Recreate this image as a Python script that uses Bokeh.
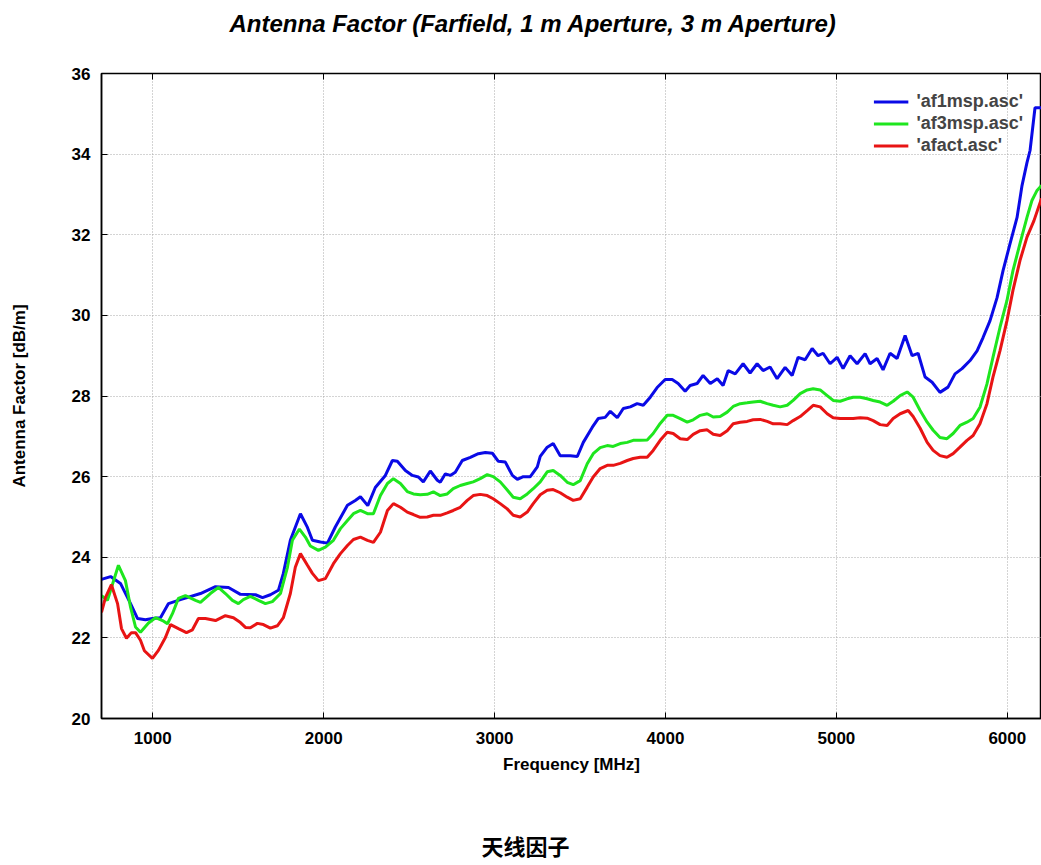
from bokeh.plotting import figure
from bokeh.models import Range1d, LinearAxis, FixedTicker, Legend, LegendItem, Title, ColumnDataSource
from bokeh.embed import file_html
from bokeh.resources import INLINE

# ---------------- data ----------------
af1_freq = [700, 753, 811, 870, 911, 957, 998, 1045, 1092, 1162, 1279, 1367, 1443, 1513, 1601, 1642,
            1688, 1735, 1764, 1805, 1864, 1905, 1934, 1981, 2022, 2068, 2139, 2185, 2215, 2258, 2302,
            2361, 2402, 2431, 2478, 2519, 2554, 2583, 2624, 2665, 2682, 2712, 2741, 2770, 2811, 2858,
            2905, 2946, 2987, 3022, 3063, 3104, 3133, 3168, 3209, 3250, 3267, 3308, 3343, 3384, 3443,
            3484, 3519, 3571, 3606, 3647, 3677, 3718, 3753, 3794, 3834, 3870, 3911, 3951, 3998, 4039,
            4074, 4115, 4144, 4185, 4220, 4262, 4303, 4337, 4367, 4408, 4454, 4495, 4536, 4571, 4612,
            4653, 4700, 4741, 4776, 4817, 4858, 4893, 4922, 4963, 5004, 5039, 5080, 5121, 5168, 5197,
            5238, 5273, 5314, 5355, 5402, 5443, 5478, 5519, 5560, 5606, 5653, 5694, 5735, 5782, 5823,
            5858, 5899, 5940, 5975, 6016, 6057, 6086, 6115, 6133, 6162, 6200]
af1_vals = [23.45, 23.52, 23.35, 22.85, 22.48, 22.45, 22.48, 22.5, 22.85, 22.95, 23.1, 23.27, 23.25,
            23.08, 23.07, 23.0, 23.07, 23.18, 23.6, 24.42, 25.08, 24.74, 24.42, 24.38, 24.35, 24.75,
            25.29, 25.41, 25.5, 25.28, 25.73, 26.03, 26.4, 26.38, 26.15, 26.03, 25.99, 25.87, 26.14,
            25.91, 25.86, 26.07, 26.03, 26.11, 26.4, 26.48, 26.57, 26.6, 26.58, 26.38, 26.36, 26.03,
            25.93, 26.0, 26.0, 26.24, 26.5, 26.73, 26.82, 26.52, 26.52, 26.5, 26.85, 27.22, 27.44,
            27.47, 27.62, 27.46, 27.69, 27.73, 27.81, 27.77, 27.97, 28.21, 28.41, 28.41, 28.31, 28.12,
            28.26, 28.31, 28.51, 28.31, 28.43, 28.26, 28.63, 28.55, 28.8, 28.57, 28.8, 28.63, 28.72,
            28.43, 28.71, 28.51, 28.96, 28.9, 29.18, 29.0, 29.06, 28.8, 28.96, 28.68, 29.0, 28.8,
            29.05, 28.8, 28.93, 28.65, 29.06, 28.93, 29.5, 29.0, 29.06, 28.47, 28.34, 28.09, 28.22,
            28.55, 28.68, 28.88, 29.12, 29.45, 29.87, 30.44, 31.11, 31.78, 32.43, 33.22, 33.79, 34.09,
            35.15, 35.15]

af3_freq = [700, 735, 799, 840, 870, 899, 928, 975, 1016, 1057, 1086, 1115, 1150, 1191, 1250, 1279,
            1337, 1384, 1425, 1466, 1501, 1530, 1571, 1618, 1659, 1700, 1747, 1788, 1817, 1858, 1893,
            1922, 1969, 2010, 2057, 2098, 2139, 2174, 2215, 2256, 2291, 2332, 2373, 2408, 2449, 2489,
            2525, 2565, 2606, 2642, 2682, 2723, 2758, 2799, 2840, 2875, 2916, 2957, 2992, 3033, 3074,
            3109, 3150, 3191, 3226, 3267, 3308, 3343, 3384, 3425, 3460, 3501, 3542, 3577, 3618, 3659,
            3694, 3735, 3776, 3811, 3852, 3893, 3928, 3969, 4010, 4045, 4086, 4127, 4162, 4203, 4244,
            4279, 4320, 4361, 4396, 4437, 4478, 4513, 4554, 4595, 4630, 4671, 4712, 4747, 4788, 4829,
            4864, 4905, 4946, 4981, 5022, 5063, 5098, 5139, 5180, 5215, 5256, 5297, 5332, 5373, 5414,
            5449, 5490, 5531, 5566, 5606, 5647, 5683, 5723, 5764, 5800, 5840, 5881, 5916, 5957, 5998,
            6033, 6074, 6115, 6144, 6174, 6200]
af3_vals = [23.05, 22.93, 23.8, 23.42, 22.76, 22.27, 22.14, 22.37, 22.5, 22.43, 22.35, 22.6, 22.98,
            23.05, 22.93, 22.88, 23.1, 23.25, 23.1, 22.93, 22.85, 22.95, 23.03, 22.93, 22.85, 22.9,
            23.1, 23.75, 24.42, 24.7, 24.5, 24.28, 24.17, 24.25, 24.42, 24.71, 24.91, 25.08, 25.16,
            25.08, 25.08, 25.53, 25.83, 25.95, 25.83, 25.63, 25.57, 25.55, 25.56, 25.62, 25.53, 25.57,
            25.7, 25.78, 25.83, 25.87, 25.95, 26.05, 26.0, 25.87, 25.67, 25.49, 25.45, 25.57, 25.7,
            25.87, 26.12, 26.15, 26.03, 25.86, 25.8, 25.9, 26.32, 26.57, 26.72, 26.77, 26.75, 26.82,
            26.85, 26.9, 26.9, 26.91, 27.07, 27.32, 27.52, 27.52, 27.44, 27.35, 27.41, 27.52, 27.56,
            27.48, 27.49, 27.6, 27.74, 27.81, 27.83, 27.85, 27.87, 27.81, 27.77, 27.73, 27.77, 27.89,
            28.06, 28.15, 28.18, 28.15, 28.01, 27.89, 27.87, 27.93, 27.97, 27.97, 27.93, 27.89, 27.85,
            27.77, 27.87, 28.01, 28.1, 27.97, 27.64, 27.35, 27.15, 26.97, 26.94, 27.07, 27.27, 27.35,
            27.44, 27.72, 28.3, 28.96, 29.7, 30.37, 31.11, 31.78, 32.43, 32.85, 33.1, 33.22]

afact_freq = [700, 723, 758, 794, 817, 846, 875, 899, 928, 951, 998, 1033, 1074, 1104, 1150, 1197,
              1232, 1267, 1308, 1367, 1425, 1472, 1513, 1542, 1571, 1612, 1647, 1688, 1729, 1764, 1805,
              1834, 1864, 1905, 1934, 1969, 2010, 2057, 2098, 2139, 2174, 2215, 2256, 2291, 2332, 2373,
              2408, 2449, 2489, 2525, 2565, 2606, 2642, 2682, 2723, 2758, 2799, 2840, 2875, 2916, 2957,
              2992, 3033, 3074, 3109, 3150, 3191, 3226, 3267, 3308, 3343, 3384, 3425, 3460, 3501, 3542,
              3577, 3618, 3659, 3694, 3735, 3776, 3811, 3852, 3893, 3928, 3969, 4010, 4045, 4086, 4127,
              4162, 4203, 4244, 4279, 4320, 4361, 4396, 4437, 4478, 4513, 4554, 4595, 4630, 4671, 4712,
              4747, 4788, 4829, 4864, 4905, 4946, 4981, 5022, 5063, 5098, 5139, 5180, 5215, 5256, 5297,
              5332, 5373, 5420, 5449, 5490, 5531, 5566, 5606, 5647, 5683, 5723, 5764, 5800, 5840, 5881,
              5916, 5957, 5998, 6033, 6074, 6115, 6156, 6200]
afact_vals = [22.63, 23.0, 23.32, 22.85, 22.23, 21.99, 22.13, 22.13, 21.94, 21.68, 21.49, 21.69, 22.01,
              22.33, 22.23, 22.13, 22.2, 22.48, 22.48, 22.43, 22.55, 22.5, 22.38, 22.26, 22.25, 22.36,
              22.33, 22.24, 22.3, 22.5, 23.1, 23.75, 24.09, 23.8, 23.6, 23.42, 23.47, 23.84, 24.09,
              24.29, 24.44, 24.5, 24.42, 24.37, 24.62, 25.16, 25.33, 25.24, 25.12, 25.06, 24.99, 25.0,
              25.04, 25.04, 25.1, 25.16, 25.24, 25.41, 25.53, 25.56, 25.53, 25.45, 25.33, 25.2, 25.04,
              25.0, 25.12, 25.33, 25.55, 25.66, 25.68, 25.6, 25.49, 25.41, 25.45, 25.74, 25.99, 26.2,
              26.28, 26.28, 26.33, 26.4, 26.45, 26.48, 26.48, 26.65, 26.9, 27.1, 27.07, 26.94, 26.92,
              27.05, 27.14, 27.16, 27.05, 27.02, 27.14, 27.31, 27.35, 27.37, 27.41, 27.42, 27.37, 27.31,
              27.31, 27.29, 27.39, 27.49, 27.64, 27.77, 27.73, 27.56, 27.46, 27.44, 27.44, 27.44, 27.46,
              27.45, 27.39, 27.29, 27.27, 27.44, 27.56, 27.64, 27.49, 27.2, 26.85, 26.65, 26.52, 26.48,
              26.57, 26.73, 26.9, 27.02, 27.31, 27.81, 28.47, 29.12, 29.87, 30.62, 31.36, 31.94, 32.35,
              32.9]

series_names = ["'af1msp.asc'", "'af3msp.asc'", "'afact.asc'"]
series_colors = ["#0a0ae6", "#1ee61e", "#e81414"]
x_ticks = [1000, 2000, 3000, 4000, 5000, 6000]
y_ticks = [20, 22, 24, 26, 28, 30, 32, 34, 36]

title_text = "Antenna Factor (Farfield, 1 m Aperture, 3 m Aperture)"
caption_text = "天线因子"
x_label = "Frequency [MHz]"
y_label = "Antenna Factor [dB/m]"

FONT = "Liberation Sans"

# ---------------- figure ----------------
p = figure(width=1041, height=865,
           x_range=Range1d(700, 6200), y_range=Range1d(20, 36),
           output_backend="svg", toolbar_location=None,
           min_border_left=101, min_border_right=0,
           min_border_top=73, min_border_bottom=147)
p.background_fill_color = "white"
p.border_fill_color = "white"
p.outline_line_color = "black"
p.outline_line_width = 1.5

# title: a trailing empty line lifts it to the top of the page
p.title.text = title_text + "\n"
p.title.text_font = FONT
p.title.text_font_style = "bold italic"
p.title.text_font_size = "24px"
p.title.text_color = "black"
p.title.align = "left"
p.title.offset = 128
p.title.vertical_align = "top"
p.title.standoff = 16

for ax in (p.xaxis[0], p.yaxis[0]):
    ax.major_label_text_font = FONT
    ax.major_label_text_font_style = "bold"
    ax.major_label_text_font_size = "17px"
    ax.major_label_text_color = "black"
    ax.axis_label_text_font = FONT
    ax.axis_label_text_font_style = "bold"
    ax.axis_label_text_font_size = "17px"
    ax.axis_label_text_color = "black"
    ax.major_tick_in = 6
    ax.major_tick_out = 0
    ax.minor_tick_in = 0
    ax.minor_tick_out = 0
    ax.axis_line_color = "black"
    ax.axis_line_width = 1.5
    ax.major_tick_line_color = "black"

p.xaxis[0].ticker = FixedTicker(ticks=x_ticks)
p.yaxis[0].ticker = FixedTicker(ticks=y_ticks)
p.xaxis[0].axis_label = x_label
p.yaxis[0].axis_label = y_label
p.xaxis[0].major_label_standoff = 13
p.xaxis[0].axis_label_standoff = 8
p.yaxis[0].major_label_standoff = 11
p.yaxis[0].axis_label_standoff = 40

top_axis = LinearAxis(ticker=FixedTicker(ticks=x_ticks),
                      major_label_overrides={t: "" for t in x_ticks},
                      major_label_standoff=0,
                      major_tick_in=6, major_tick_out=0, minor_tick_in=0, minor_tick_out=0,
                      axis_line_color="black", major_tick_line_color="black")
p.add_layout(top_axis, "above")

for g in (p.xgrid[0], p.ygrid[0]):
    g.grid_line_color = "#a8a8a8"
    g.grid_line_dash = "1 2"
    g.grid_line_width = 1
p.xgrid[0].ticker = FixedTicker(ticks=x_ticks)
p.ygrid[0].ticker = FixedTicker(ticks=y_ticks)

items = []
for name, color, fx, vy in zip(series_names, series_colors,
                               [af1_freq, af3_freq, afact_freq],
                               [af1_vals, af3_vals, afact_vals]):
    src = ColumnDataSource(dict(x=fx, y=vy))
    r = p.line("x", "y", source=src, line_color=color, line_width=3)
    items.append(LegendItem(label=name, renderers=[r]))

legend = Legend(items=items, location="top_right", margin=18, padding=5, spacing=1,
                label_text_font=FONT, label_text_font_style="bold", label_text_font_size="18px",
                glyph_width=35, glyph_height=19, label_height=19, label_standoff=8,
                background_fill_alpha=0, border_line_color=None)
p.add_layout(legend)

# caption: leading empty lines push it down towards the bottom of the page
caption = Title(text="\n\n" + caption_text, text_font="Noto Sans CJK SC", text_font_style="bold",
                text_font_size="22px", text_color="black", align="left", offset=380,
                vertical_align="bottom", standoff=0, text_line_height=0.8)
p.add_layout(caption, "below")

open("out.html", "w").write(file_html(p, INLINE))
